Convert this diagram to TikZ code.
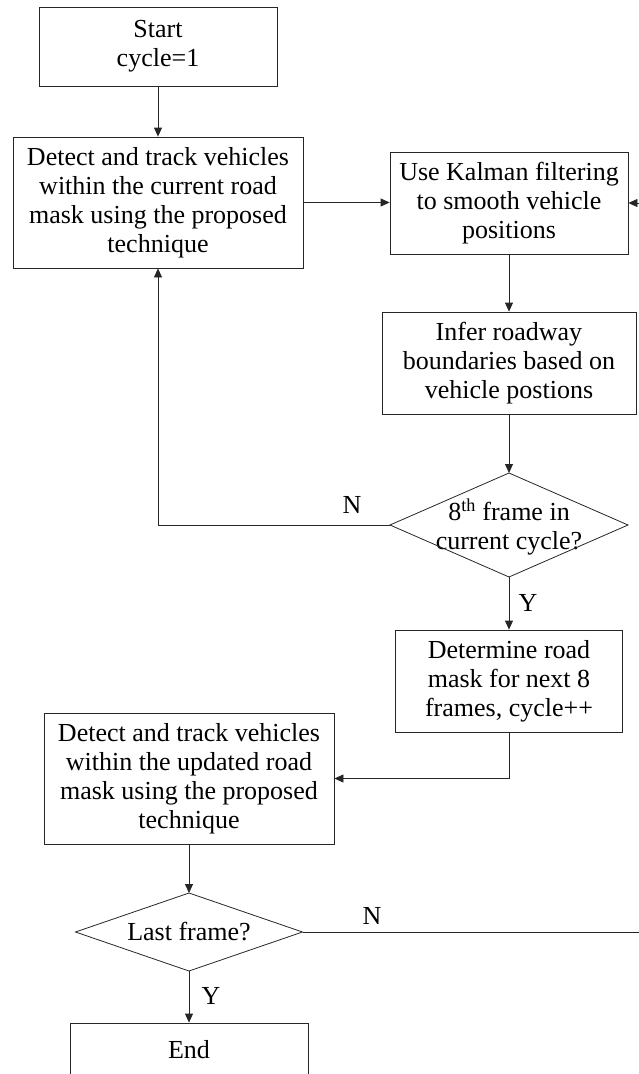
\documentclass[tikz,border=0pt]{standalone}
\usepackage{fontspec}
\setmainfont{Liberation Serif}
\usetikzlibrary{arrows.meta}
\begin{document}
\begin{tikzpicture}[x=1pt,y=-1pt,
  every node/.style={font=\fontsize{26}{29}\selectfont},
  stepbox/.style={draw=black!85,line width=0.8pt,align=center,inner sep=0pt},
  txt/.style={align=center,inner sep=0pt},
  link/.style={draw=black!85,line width=0.8pt},
  flow/.style={link,-{Triangle[length=9pt,width=8pt]}},
  lbl/.style={inner sep=0pt}
]
\useasboundingbox (0,0) rectangle (639,1074);
\clip (0,0) rectangle (639,1074);

% process boxes
\node[stepbox,minimum width=238,minimum height=79] (start) at (158,46.5) {Start\\cycle=1};
\node[stepbox,minimum width=290,minimum height=131] (det1) at (158,202.5)
  {Detect and track vehicles\\within the current road\\mask using the proposed\\technique};
\node[stepbox,minimum width=238,minimum height=102] (kal) at (509,203)
  {Use Kalman filtering\\to smooth vehicle\\positions};
\node[stepbox,minimum width=254,minimum height=102] (inf) at (509,363)
  {Infer roadway\\boundaries based on\\vehicle postions};
\node[stepbox,minimum width=227,minimum height=102] (det) at (509,681)
  {Determine road\\mask for next 8\\frames, cycle++};
\node[stepbox,minimum width=290,minimum height=131] (det2) at (189,778.5)
  {Detect and track vehicles\\within the updated road\\mask using the proposed\\technique};
\node[stepbox,minimum width=238,minimum height=54] (end) at (189,1050) {End};

% decisions
\node[txt] (d1) at (509,527) {8\textsuperscript{th} frame in\\current cycle?};
\coordinate (d1t) at (509,473);
\coordinate (d1b) at (509,577);
\coordinate (d1l) at (390,525);
\coordinate (d1r) at (628,525);
\draw[link] (d1t) -- (d1r) -- (d1b) -- (d1l) -- cycle;

\node[txt] (d2) at (189,932) {Last frame?};
\coordinate (d2t) at (189,893);
\coordinate (d2b) at (189,971);
\coordinate (d2l) at (75.5,932);
\coordinate (d2r) at (302.5,932);
\draw[link] (d2t) -- (d2r) -- (d2b) -- (d2l) -- cycle;

% helper points for bends and open ends
\coordinate (kin) at (639,203);
\coordinate (nturn) at (158,525);
\coordinate (dturn) at (509,778.5);
\coordinate (lastout) at (639,932);

% connectors
\draw[flow] (start.south) -- (det1.north);
\draw[flow] (det1.east) -- (det1.east -| kal.west);
\draw[flow] (kin) -- (kal.east);
\draw[flow] (kal.south) -- (inf.north);
\draw[flow] (inf.south) -- (d1t);
\draw[flow] (d1l) -- (nturn) -- (det1.south);
\draw[flow] (d1b) -- (det.north);
\draw[flow] (det.south) -- (dturn) -- (det2.east);
\draw[flow] (det2.south) -- (d2t);
\draw[link] (d2r) -- (lastout);
\draw[flow] (d2b) -- (end.north);

% branch labels
\node[lbl] (n1) at (352,505) {N};
\node[lbl] (y1) at (528,603) {Y};
\node[lbl] (n2) at (372,916) {N};
\node[lbl] (y2) at (211,996) {Y};
\end{tikzpicture}
\end{document}
